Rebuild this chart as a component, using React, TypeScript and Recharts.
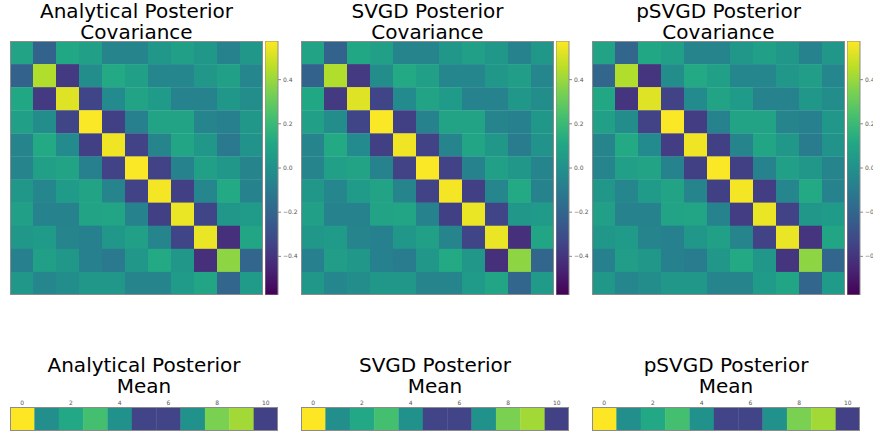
import React from 'react';
import { ScatterChart, Scatter, XAxis, YAxis, BarChart, Bar } from 'recharts';

// ---------- data ----------
const panelTitles = ['Analytical Posterior', 'SVGD Posterior', 'pSVGD Posterior'];
const covSuffix = 'Covariance';
const meanSuffix = 'Mean';

const covAnalytical: number[][] = [
  [0.09, -0.21, 0.11, 0.07, -0.06, -0.06, 0.03, 0.07, 0.03, -0.07, 0.03],
  [-0.21, 0.44, -0.38, -0.02, 0.12, 0.07, -0.05, -0.05, 0.03, 0.07, -0.05],
  [0.11, -0.38, 0.52, -0.34, -0.03, 0.09, 0.05, -0.07, -0.07, 0.03, -0.02],
  [0.07, -0.02, -0.34, 0.57, -0.36, -0.08, 0.09, 0.09, -0.06, -0.08, 0.03],
  [-0.06, 0.12, -0.03, -0.36, 0.55, -0.35, -0.06, 0.1, 0.03, -0.11, 0.01],
  [-0.06, 0.07, 0.09, -0.08, -0.35, 0.57, -0.35, -0.07, 0.07, 0.03, -0.06],
  [0.03, -0.05, 0.05, 0.09, -0.06, -0.35, 0.56, -0.36, -0.05, 0.12, -0.07],
  [0.07, -0.07, -0.07, 0.09, 0.1, -0.07, -0.36, 0.54, -0.34, 0.03, 0.05],
  [0.03, 0.05, -0.06, -0.08, 0.03, 0.07, -0.06, -0.34, 0.54, -0.42, 0.1],
  [-0.08, 0.07, 0.03, -0.08, -0.11, 0.03, 0.12, 0.03, -0.42, 0.38, -0.2],
  [0.03, -0.05, -0.02, 0.03, 0.03, -0.06, -0.06, 0.05, 0.1, -0.2, 0.05],
];

const covSVGD: number[][] = [
  [0.09, -0.21, 0.11, 0.07, -0.06, -0.06, 0.03, 0.07, 0.03, -0.07, 0.03],
  [-0.21, 0.44, -0.38, -0.02, 0.12, 0.07, -0.05, -0.05, 0.03, 0.06, -0.05],
  [0.11, -0.38, 0.52, -0.34, -0.03, 0.09, 0.05, -0.07, -0.07, 0.03, -0.02],
  [0.07, -0.02, -0.34, 0.57, -0.36, -0.07, 0.09, 0.09, -0.06, -0.08, 0.03],
  [-0.06, 0.12, -0.03, -0.36, 0.55, -0.35, -0.06, 0.1, 0.03, -0.1, 0.01],
  [-0.06, 0.07, 0.09, -0.07, -0.35, 0.57, -0.35, -0.07, 0.07, 0.03, -0.06],
  [0.03, -0.05, 0.05, 0.09, -0.06, -0.35, 0.56, -0.36, -0.05, 0.12, -0.07],
  [0.07, -0.07, -0.07, 0.09, 0.1, -0.07, -0.36, 0.54, -0.34, 0.03, 0.05],
  [0.03, 0.05, -0.06, -0.08, 0.03, 0.07, -0.06, -0.34, 0.54, -0.42, 0.1],
  [-0.08, 0.06, 0.03, -0.08, -0.1, 0.03, 0.12, 0.03, -0.42, 0.38, -0.2],
  [0.03, -0.05, -0.02, 0.03, 0.03, -0.06, -0.06, 0.05, 0.1, -0.2, 0.05],
];

const covPSVGD: number[][] = [
  [0.09, -0.2, 0.11, 0.07, -0.06, -0.06, 0.03, 0.07, 0.03, -0.07, 0.03],
  [-0.2, 0.44, -0.4, -0.02, 0.12, 0.07, -0.05, -0.05, 0.03, 0.06, -0.05],
  [0.11, -0.4, 0.52, -0.35, -0.03, 0.09, 0.05, -0.07, -0.07, 0.03, -0.02],
  [0.07, -0.02, -0.35, 0.57, -0.37, -0.07, 0.09, 0.09, -0.06, -0.08, 0.03],
  [-0.06, 0.12, -0.03, -0.37, 0.55, -0.36, -0.06, 0.1, 0.03, -0.1, 0.01],
  [-0.06, 0.07, 0.09, -0.07, -0.36, 0.57, -0.36, -0.07, 0.07, 0.03, -0.06],
  [0.03, -0.05, 0.05, 0.09, -0.06, -0.36, 0.56, -0.37, -0.05, 0.12, -0.07],
  [0.07, -0.07, -0.07, 0.09, 0.1, -0.07, -0.37, 0.54, -0.35, 0.03, 0.05],
  [0.03, 0.05, -0.06, -0.08, 0.03, 0.07, -0.06, -0.35, 0.54, -0.4, 0.1],
  [-0.08, 0.06, 0.03, -0.08, -0.1, 0.03, 0.12, 0.03, -0.4, 0.38, -0.2],
  [0.03, -0.05, -0.02, 0.03, 0.03, -0.06, -0.06, 0.05, 0.1, -0.2, 0.05],
];

const meanAnalytical = [1.0, 0.49, 0.6, 0.7, 0.5, 0.2, 0.2, 0.5, 0.8, 0.86, 0.19];
const meanSVGD = [1.0, 0.49, 0.6, 0.7, 0.5, 0.2, 0.2, 0.5, 0.8, 0.86, 0.19];
const meanPSVGD = [1.0, 0.49, 0.6, 0.7, 0.5, 0.2, 0.2, 0.5, 0.8, 0.86, 0.19];

const covMin = -0.575;
const covMax = 0.575;
const meanMin = 0;
const meanMax = 1;
const colorbarTicks = [-0.4, -0.2, 0, 0.2, 0.4];
const meanTicks = [0, 2, 4, 6, 8, 10];

// ---------- colour map ----------
const VIRIDIS = [
  '#440154', '#482475', '#414487', '#355f8d', '#2a788e', '#21918c',
  '#22a884', '#44bf70', '#7ad151', '#bddf26', '#fde725',
];
function hex2rgb(h: string) {
  return [parseInt(h.slice(1, 3), 16), parseInt(h.slice(3, 5), 16), parseInt(h.slice(5, 7), 16)];
}
function viridis(t: number) {
  const c = Math.max(0, Math.min(1, t)) * (VIRIDIS.length - 1);
  const i = Math.min(VIRIDIS.length - 2, Math.floor(c));
  const f = c - i;
  const a = hex2rgb(VIRIDIS[i]);
  const b = hex2rgb(VIRIDIS[i + 1]);
  const m = a.map((v, k) => Math.round(v + (b[k] - v) * f));
  return `rgb(${m[0]},${m[1]},${m[2]})`;
}

const FONT = '"DejaVu Sans", sans-serif';
const FRAME = '#8c8c8c';

// ---------- components ----------
function CovHeatmap({ matrix, left, top, w, h }: { matrix: number[][]; left: number; top: number; w: number; h: number }) {
  const n = matrix.length;
  const data = matrix.flatMap((row, i) => row.map((v, j) => ({ x: j, y: i, v })));
  const cw = w / n;
  const ch = h / n;
  return (
    <div style={{ position: 'absolute', left, top, width: w, height: h }}>
      <ScatterChart width={w} height={h} margin={{ top: 0, right: 0, bottom: 0, left: 0 }}>
        <XAxis type="number" dataKey="x" domain={[-0.5, n - 0.5]} allowDataOverflow hide />
        <YAxis type="number" dataKey="y" domain={[-0.5, n - 0.5]} allowDataOverflow reversed hide />
        <Scatter
          data={data}
          isAnimationActive={false}
          shape={(p: any) => (
            <rect
              x={p.cx - cw / 2}
              y={p.cy - ch / 2}
              width={cw + 0.3}
              height={ch + 0.3}
              fill={viridis((p.payload.v - covMin) / (covMax - covMin))}
            />
          )}
        />
      </ScatterChart>
      <div style={{ position: 'absolute', left: 0, top: 0, width: w, height: h, boxSizing: 'border-box', border: `1px solid ${FRAME}`, pointerEvents: 'none' }} />
    </div>
  );
}

function Colorbar({ left, top, h, id }: { left: number; top: number; h: number; id: string }) {
  const data = [{ k: 'cb', r: [covMin, covMax] }];
  const fmt = (v: number) => (v < 0 ? '\u2212' : '') + Math.abs(v).toFixed(1);
  return (
    <div style={{ position: 'absolute', left, top }}>
      <BarChart width={42} height={h} data={data} margin={{ top: 0, right: 0, bottom: 0, left: 0 }} barCategoryGap={0}>
        <defs>
          <linearGradient id={id} x1="0" y1="0" x2="0" y2="1">
            {VIRIDIS.slice().reverse().map((c, i) => (
              <stop key={i} offset={`${(i / (VIRIDIS.length - 1)) * 100}%`} stopColor={c} />
            ))}
          </linearGradient>
        </defs>
        <XAxis dataKey="k" type="category" hide />
        <YAxis
          orientation="right"
          type="number"
          domain={[covMin, covMax]}
          ticks={colorbarTicks}
          width={29}
          tickSize={3}
          tickMargin={2}
          axisLine={false}
          tickLine={{ stroke: '#888' }}
          tick={{ fontSize: 6, fill: '#555', fontFamily: FONT }}
          tickFormatter={fmt}
          allowDataOverflow
        />
        <Bar dataKey="r" fill={`url(#${id})`} stroke={FRAME} strokeWidth={1} isAnimationActive={false} />
      </BarChart>
    </div>
  );
}

function MeanBar({ values, left, top, w, h }: { values: number[]; left: number; top: number; w: number; h: number }) {
  const n = values.length;
  const data = values.map((v, j) => ({ x: j, y: 0, v }));
  const cw = w / n;
  const topAxis = 10;
  const botAxis = 5;
  return (
    <div style={{ position: 'absolute', left, top: top - topAxis }}>
      <ScatterChart width={w} height={h + topAxis + botAxis} margin={{ top: 0, right: 0, bottom: 0, left: 0 }}>
        <XAxis
          xAxisId="t"
          orientation="top"
          type="number"
          dataKey="x"
          domain={[-0.5, n - 0.5]}
          ticks={meanTicks}
          height={topAxis}
          tickLine={false}
          tickSize={0}
          axisLine={false}
          tickMargin={2}
          tick={{ fontSize: 6, fill: '#555', fontFamily: FONT }}
          allowDataOverflow
        />
        <XAxis
          xAxisId="b"
          orientation="bottom"
          type="number"
          domain={[-0.5, n - 0.5]}
          ticks={meanTicks}
          height={botAxis}
          tick={false}
          tickSize={2}
          tickLine={{ stroke: '#888' }}
          axisLine={false}
          allowDataOverflow
        />
        <YAxis type="number" dataKey="y" domain={[-0.5, 0.5]} hide allowDataOverflow />
        <Scatter
          xAxisId="t"
          data={data}
          isAnimationActive={false}
          shape={(p: any) => (
            <rect
              x={p.cx - cw / 2}
              y={p.cy - h / 2}
              width={cw + 0.3}
              height={h}
              fill={viridis((p.payload.v - meanMin) / (meanMax - meanMin))}
            />
          )}
        />
      </ScatterChart>
      <div style={{ position: 'absolute', left: 0, top: topAxis, width: w, height: h, boxSizing: 'border-box', border: `1px solid ${FRAME}`, pointerEvents: 'none' }} />
    </div>
  );
}

function Title({ text, cx, top }: { text: string[]; cx: number; top: number }) {
  return (
    <div
      style={{
        position: 'absolute',
        left: cx - 160,
        top,
        width: 320,
        textAlign: 'center',
        fontFamily: FONT,
        fontSize: 20,
        lineHeight: '21px',
        color: '#000',
        whiteSpace: 'nowrap',
      }}
    >
      {text.map((t, i) => (
        <div key={i}>{t}</div>
      ))}
    </div>
  );
}

const covMatrices = [covAnalytical, covSVGD, covPSVGD];
const meanVectors = [meanAnalytical, meanSVGD, meanPSVGD];

export default function App() {
  const heatLefts = [10, 301, 592];
  const cbLefts = [265, 556, 847];
  const meanLefts = [10, 301, 592];
  const HW = 253;
  const HH = 254;
  const HT = 41;
  const MW = 268;
  const MH = 24;
  const MT = 407;
  return (
    <div style={{ position: 'absolute', left: 0, top: 0, width: 873, height: 435, overflow: 'hidden', background: '#fff' }}>
      {panelTitles.map((t, i) => (
        <React.Fragment key={i}>
          <Title text={[t, covSuffix]} cx={heatLefts[i] + HW / 2} top={1} />
          <CovHeatmap matrix={covMatrices[i]} left={heatLefts[i]} top={HT} w={HW} h={HH} />
          <Colorbar left={cbLefts[i]} top={HT} h={HH} id={`cbgrad${i}`} />
          <Title text={[t, meanSuffix]} cx={meanLefts[i] + MW / 2} top={355} />
          <MeanBar values={meanVectors[i]} left={meanLefts[i]} top={MT} w={MW} h={MH} />
        </React.Fragment>
      ))}
    </div>
  );
}
